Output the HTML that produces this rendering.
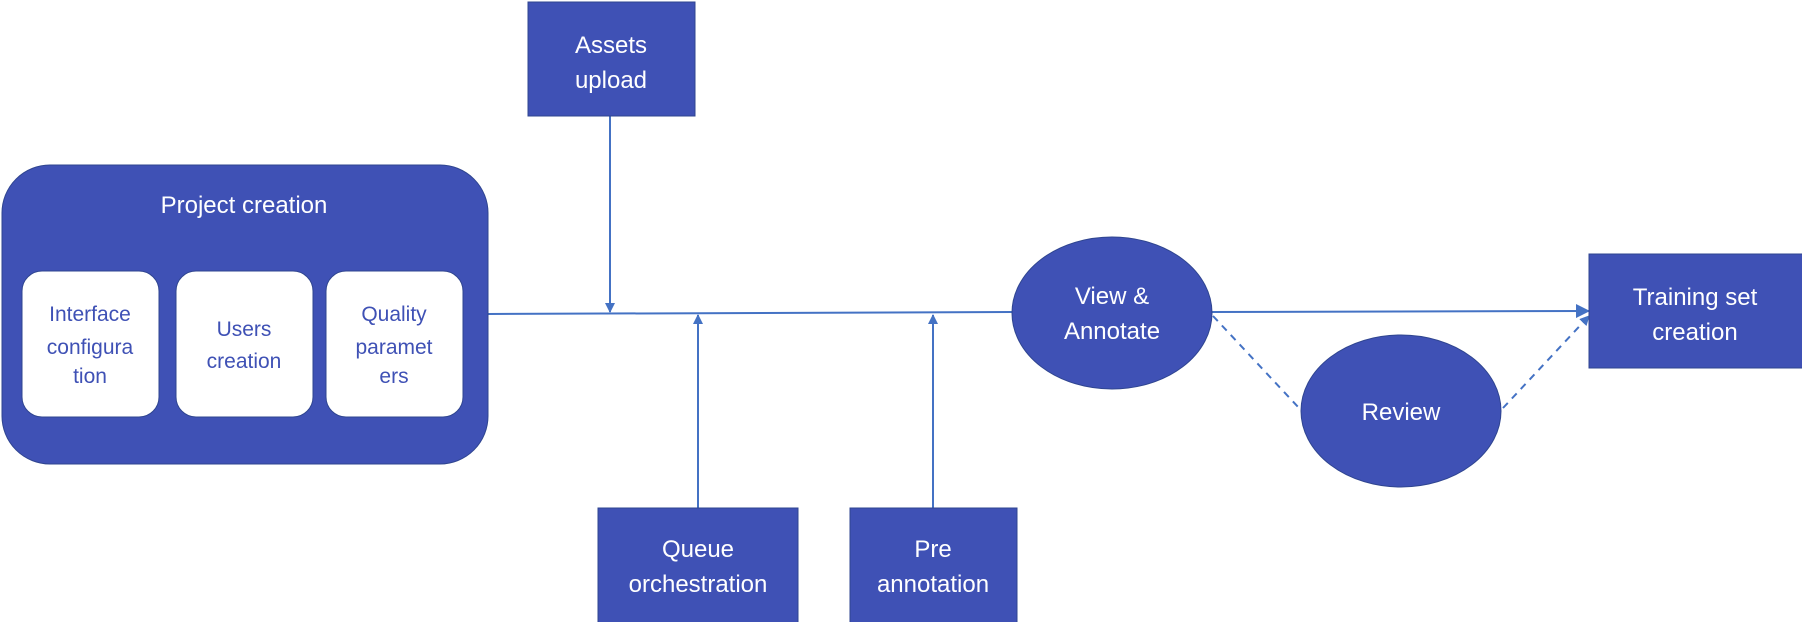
<!DOCTYPE html>
<html><head><style>
body{margin:0;background:#fff;}
svg{display:block;}
text{font-family:"Liberation Sans",sans-serif;font-size:24px;text-anchor:middle;}
.w{fill:#fff;}
.b{fill:#3f51b5;font-size:21px;}
</style></head><body>
<svg width="1802" height="622" viewBox="0 0 1802 622">
<defs>
<marker id="a" markerWidth="10" markerHeight="10" refX="9" refY="5" orient="auto" markerUnits="userSpaceOnUse">
<path d="M0,0 L10,5 L0,10 z" fill="#4472c4"/></marker>
<marker id="a2" markerWidth="14" markerHeight="14" refX="13" refY="7" orient="auto" markerUnits="userSpaceOnUse">
<path d="M0,0 L14,7 L0,14 z" fill="#4472c4"/></marker>
</defs>
<g stroke="#4472c4" stroke-width="2" fill="none">
<line x1="488" y1="314" x2="1012" y2="312"/>
<line x1="610" y1="116" x2="610" y2="312" marker-end="url(#a)"/>
<line x1="698" y1="508" x2="698" y2="315" marker-end="url(#a)"/>
<line x1="933" y1="508" x2="933" y2="315" marker-end="url(#a)"/>
<line x1="1212" y1="312" x2="1589" y2="311" marker-end="url(#a2)"/>
<line x1="1213" y1="316" x2="1299" y2="408" stroke-dasharray="7,6"/>
<line x1="1503" y1="408" x2="1589" y2="316" stroke-dasharray="7,6" marker-end="url(#a)"/>
</g>
<g fill="#3f51b5" stroke="#2f4590" stroke-width="1">
<rect x="528" y="2" width="167" height="114"/>
<rect x="2" y="165" width="486" height="299" rx="48"/>
<rect x="598" y="508" width="200" height="120"/>
<rect x="850" y="508" width="167" height="120"/>
<ellipse cx="1112" cy="313" rx="100" ry="76"/>
<ellipse cx="1401" cy="411" rx="100" ry="76"/>
<rect x="1589" y="254" width="220" height="114"/>
</g>
<g fill="#fff" stroke="#2f4590" stroke-width="1">
<rect x="22" y="271" width="137" height="146" rx="20"/>
<rect x="176" y="271" width="137" height="146" rx="20"/>
<rect x="326" y="271" width="137" height="146" rx="20"/>
</g>
<text class="w" x="611" y="53">Assets</text>
<text class="w" x="611" y="88">upload</text>
<text class="w" x="244" y="213">Project creation</text>
<text class="b" x="90" y="321">Interface</text>
<text class="b" x="90" y="354">configura</text>
<text class="b" x="90" y="383">tion</text>
<text class="b" x="244" y="336">Users</text>
<text class="b" x="244" y="368">creation</text>
<text class="b" x="394" y="321">Quality</text>
<text class="b" x="394" y="354">paramet</text>
<text class="b" x="394" y="383">ers</text>
<text class="w" x="698" y="557">Queue</text>
<text class="w" x="698" y="592">orchestration</text>
<text class="w" x="933" y="557">Pre</text>
<text class="w" x="933" y="592">annotation</text>
<text class="w" x="1112" y="304">View &amp;</text>
<text class="w" x="1112" y="339">Annotate</text>
<text class="w" x="1401" y="420">Review</text>
<text class="w" x="1695" y="305">Training set</text>
<text class="w" x="1695" y="340">creation</text>
</svg>
</body></html>
